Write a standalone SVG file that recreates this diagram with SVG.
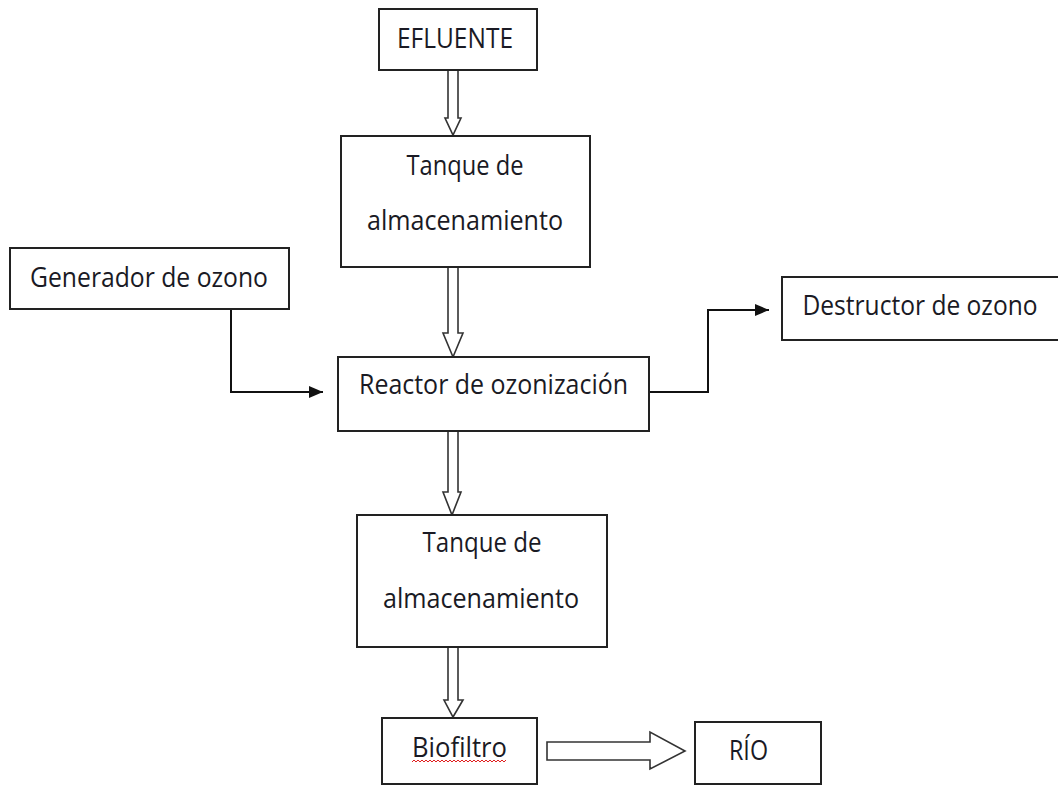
<svg xmlns="http://www.w3.org/2000/svg" width="1058" height="785" viewBox="0 0 1058 785">
<style>
.box{fill:#fff;stroke:#222;stroke-width:2}
.t{font-family:"Open Sans","Liberation Sans",sans-serif;font-size:26.5px;fill:#1a1a24;text-anchor:middle}
.hollow{fill:#fff;stroke:#333;stroke-width:1.6;stroke-linejoin:miter}
.conn{fill:none;stroke:#111;stroke-width:2}
</style>
<defs>
<marker id="ah" markerUnits="userSpaceOnUse" markerWidth="16" markerHeight="14" refX="14" refY="6" orient="auto">
<path d="M0,0 L14,6 L0,12 Z" fill="#111"/>
</marker>
</defs>
<rect width="1058" height="785" fill="#fff"/>
<g id="connectors">
<path class="conn" d="M231,309 V392 H323" marker-end="url(#ah)"/>
<path class="conn" d="M649,392 H708 V310 H769" marker-end="url(#ah)"/>
<polygon class="hollow" points="448,70 458,70 458,118 461,118 453,135 445,118 448,118"/>
<polygon class="hollow" points="448,267 458,267 458,333 463,333 453,357 443,333 448,333"/>
<polygon class="hollow" points="448,431 458,431 458,492 461,492 452,515 443,492 448,492"/>
<polygon class="hollow" points="448,647 458,647 458,700 463,700 453,717 444,700 448,700"/>
<polygon class="hollow" points="547,742 650,742 650,732 685,751 650,769 650,760 547,760"/>
</g>
<g id="efluente">
<rect class="box" x="379" y="9" width="158" height="61"/>
<text class="t" x="455" y="48" textLength="116" lengthAdjust="spacingAndGlyphs">EFLUENTE</text>
</g>
<g id="tanque1">
<rect class="box" x="341" y="136" width="249" height="131"/>
<text class="t" x="465" y="175" textLength="117" lengthAdjust="spacingAndGlyphs">Tanque de</text>
<text class="t" x="465" y="230" textLength="196" lengthAdjust="spacingAndGlyphs">almacenamiento</text>
</g>
<g id="generador">
<rect class="box" x="10" y="248" width="279" height="61"/>
<text class="t" x="149" y="287" textLength="238" lengthAdjust="spacingAndGlyphs">Generador de ozono</text>
</g>
<g id="reactor">
<rect class="box" x="338" y="357" width="311" height="74"/>
<text class="t" x="493.5" y="394" textLength="269" lengthAdjust="spacingAndGlyphs">Reactor de ozonización</text>
</g>
<g id="destructor">
<rect class="box" x="782" y="277" width="280" height="63"/>
<text class="t" x="920" y="315" textLength="235" lengthAdjust="spacingAndGlyphs">Destructor de ozono</text>
</g>
<g id="tanque2">
<rect class="box" x="357" y="515" width="250" height="132"/>
<text class="t" x="482" y="552" textLength="119" lengthAdjust="spacingAndGlyphs">Tanque de</text>
<text class="t" x="481" y="608" textLength="196" lengthAdjust="spacingAndGlyphs">almacenamiento</text>
</g>
<g id="biofiltro">
<rect class="box" x="382" y="718" width="155" height="66"/>
<text class="t" x="459.5" y="757" textLength="95" lengthAdjust="spacingAndGlyphs">Biofiltro</text>
<path d="M412,762 l2,-2 l2,2 l2,-2 l2,2 l2,-2 l2,2 l2,-2 l2,2 l2,-2 l2,2 l2,-2 l2,2 l2,-2 l2,2 l2,-2 l2,2 l2,-2 l2,2 l2,-2 l2,2 l2,-2 l2,2 l2,-2 l2,2 l2,-2 l2,2 l2,-2 l2,2 l2,-2 l2,2 l2,-2 l2,2 l2,-2 l2,2 l2,-2 l2,2 l2,-2 l2,2 l2,-2 l2,2 l2,-2 l2,2 l2,-2 l2,2 l2,-2 l2,2 l2,-2" fill="none" stroke="#e02020" stroke-width="1"/>
</g>
<g id="rio">
<rect class="box" x="695" y="722" width="126" height="62"/>
<text class="t" x="748.5" y="760" textLength="39" lengthAdjust="spacingAndGlyphs">RÍO</text>
</g>
</svg>
